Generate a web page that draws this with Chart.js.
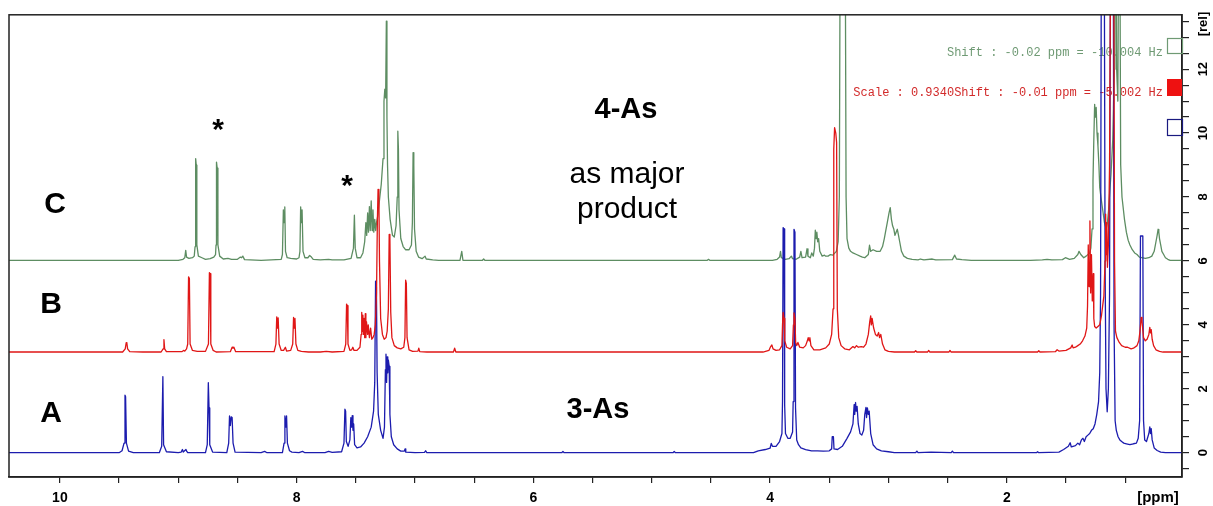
<!DOCTYPE html>
<html><head><meta charset="utf-8">
<script src="https://cdn.jsdelivr.net/npm/chart.js@4.4.1/dist/chart.umd.min.js"></script>
<style>html,body{margin:0;padding:0;background:#fff;}canvas{display:block;}</style>
</head><body>
<canvas id="c" width="1213" height="506"></canvas>
<script>
// ppm axis range and relative-intensity range
const ppmRange = [0.52, 10.43];
const relRange = [-0.76, 13.7];
const ppmLabels = [10, 8, 6, 4, 2];
const relLabels = [0, 2, 4, 6, 8, 10, 12];

// Spectrum A (3-As, blue) [ppm, rel]
const specA = [
[10.43,0],[9.50,0],[9.475,0.06],[9.458,0.3],[9.450,1.8],[9.445,1.75],[9.438,0.3],[9.42,0.05],[9.38,0],
[9.16,0],[9.140,0.2],[9.130,2.38],[9.124,0.25],[9.10,0.03],[9.0,0],
[8.975,0.02],[8.965,0.1],[8.958,0.02],[8.935,0.1],[8.928,0.04],[8.92,0],
[8.77,0],[8.755,0.25],[8.746,2.19],[8.740,1.4],[8.734,0.25],[8.71,0.02],
[8.59,0],[8.574,0.3],[8.567,1.15],[8.560,0.85],[8.553,1.12],[8.545,1.1],[8.537,0.3],[8.52,0.02],
[8.30,0],[8.27,0.04],[8.25,0],
[8.12,0],[8.106,0.3],[8.099,1.15],[8.092,0.8],[8.085,1.15],[8.078,0.3],[8.06,0.06],[8.04,0.02],[7.98,0],[7.95,0.04],[7.93,0],
[7.76,0],[7.73,0.04],[7.70,0.01],
[7.62,0.03],[7.60,0.3],[7.592,1.36],[7.586,1.3],[7.580,0.35],[7.565,0.2],[7.55,0.4],[7.542,1.1],[7.536,0.8],[7.530,1.16],[7.524,0.7],[7.518,0.9],[7.51,0.25],[7.49,0.15],[7.46,0.18],[7.43,0.3],[7.40,0.5],[7.37,0.8],[7.35,1.3],[7.34,2.2],[7.333,5.37],[7.326,5.2],[7.32,2.5],[7.31,1.2],[7.29,0.7],[7.27,0.45],[7.258,0.8],[7.25,2.6],[7.245,3.08],[7.24,2.2],[7.235,3.0],[7.23,2.5],[7.225,2.9],[7.218,2.7],[7.212,1.2],[7.20,0.5],[7.18,0.25],[7.15,0.12],[7.12,0.05],[7.09,0.05],[7.084,0.12],[7.078,0.02],[7.0,0],[6.92,0.01],[6.91,0.06],[6.90,0],
[5.76,0],[5.75,0.04],[5.74,0],[4.82,0],[4.81,0.04],[4.80,0],
[4.14,0],[4.10,0.06],[4.04,0.1],[4.00,0.14],[3.99,0.29],[3.98,0.2],[3.95,0.2],[3.92,0.35],[3.90,0.6],[3.895,1.6],[3.89,7.04],[3.882,7.0],[3.877,1.5],[3.87,0.6],[3.85,0.45],[3.83,0.45],[3.81,0.65],[3.805,1.6],[3.798,6.99],[3.79,6.9],[3.785,1.4],[3.775,0.4],[3.76,0.25],[3.74,0.15],[3.70,0.1],[3.65,0.06],[3.60,0.06],[3.55,0.05],[3.50,0.06],[3.48,0.12],[3.475,0.5],[3.465,0.5],[3.46,0.12],[3.43,0.1],[3.39,0.2],[3.35,0.45],[3.32,0.65],[3.30,0.9],[3.29,1.5],[3.285,1.2],[3.278,1.57],[3.272,1.3],[3.265,1.45],[3.255,0.9],[3.24,0.6],[3.225,0.55],[3.21,0.7],[3.20,1.2],[3.19,1.42],[3.185,1.1],[3.178,1.4],[3.17,1.2],[3.163,1.3],[3.15,0.6],[3.13,0.25],[3.10,0.12],[3.06,0.06],[3.0,0.03],[2.95,0],
[2.77,0],[2.76,0.05],[2.75,0],[2.64,0.02],[2.47,0],[2.46,0.05],[2.45,0],
[1.75,0],[1.74,0.03],[1.73,0],
[1.56,0.02],[1.52,0.1],[1.48,0.2],[1.465,0.31],[1.455,0.18],[1.44,0.2],[1.42,0.22],[1.40,0.3],[1.385,0.25],[1.37,0.4],[1.357,0.45],[1.345,0.35],[1.33,0.5],[1.315,0.55],[1.30,0.6],[1.285,0.7],[1.27,0.75],[1.255,0.9],[1.24,1.2],[1.225,1.6],[1.215,2.5],[1.208,5],[1.202,15],[1.176,15],[1.17,6],[1.162,2],[1.152,1.28],[1.142,2.0],[1.132,5],[1.125,15],[1.100,15],[1.094,4],[1.085,1.0],[1.075,0.7],[1.06,0.5],[1.045,0.4],[1.03,0.35],[1.012,0.3],[0.99,0.28],[0.96,0.25],[0.93,0.28],[0.905,0.3],[0.89,0.45],[0.878,1.0],[0.871,6.78],[0.851,6.78],[0.845,1.0],[0.835,0.4],[0.82,0.35],[0.80,0.6],[0.792,0.81],[0.786,0.6],[0.78,0.75],[0.772,0.4],[0.755,0.15],[0.73,0.07],[0.70,0.02],[0.66,0],[0.52,0]
];

// Spectrum B (red) [ppm, rel]
const specB = [
[10.43,3.15],[9.47,3.15],[9.448,3.25],[9.440,3.44],[9.434,3.42],[9.428,3.25],[9.41,3.16],[9.3,3.15],
[9.145,3.15],[9.128,3.25],[9.121,3.54],[9.115,3.25],[9.10,3.16],
[8.97,3.16],[8.955,3.2],[8.945,3.18],[8.93,3.25],[8.92,3.4],[8.913,5.5],[8.906,5.45],[8.90,3.4],[8.88,3.2],[8.84,3.17],[8.77,3.17],[8.745,3.4],[8.737,5.63],[8.731,5.6],[8.725,3.4],[8.705,3.2],[8.68,3.15],
[8.56,3.16],[8.545,3.3],[8.538,3.27],[8.53,3.3],[8.515,3.16],
[8.19,3.16],[8.175,3.4],[8.168,4.25],[8.162,3.9],[8.156,4.22],[8.148,3.4],[8.13,3.2],[8.11,3.2],[8.095,3.3],[8.085,3.18],[8.05,3.2],[8.033,3.4],[8.026,4.23],[8.02,3.9],[8.014,4.2],[8.006,3.4],[7.99,3.2],[7.96,3.17],[7.90,3.15],[7.80,3.15],[7.75,3.17],[7.70,3.15],
[7.60,3.17],[7.585,3.4],[7.578,4.65],[7.572,4.6],[7.566,3.4],[7.55,3.2],[7.535,3.22],[7.525,3.3],[7.515,3.2],[7.49,3.2],
[7.465,3.3],[7.455,3.7],[7.45,4.39],[7.445,3.8],[7.44,4.3],[7.435,3.7],[7.43,4.2],[7.425,3.6],[7.42,4.35],[7.415,3.6],[7.41,4.1],[7.40,3.7],[7.395,4.0],[7.385,3.6],[7.375,3.9],[7.365,3.55],[7.355,3.6],[7.345,3.7],[7.335,4.0],[7.325,5.0],[7.318,7.2],[7.312,8.24],[7.305,8.0],[7.30,6.0],[7.29,4.2],[7.275,3.7],[7.26,3.55],[7.245,3.6],[7.235,3.8],[7.225,4.5],[7.218,6.83],[7.212,6.7],[7.205,4.4],[7.195,3.6],[7.175,3.35],[7.15,3.28],[7.12,3.25],[7.095,3.3],[7.085,3.6],[7.079,5.4],[7.073,5.3],[7.067,3.6],[7.05,3.22],[7.02,3.17],[6.975,3.18],[6.968,3.27],[6.96,3.16],[6.90,3.15],
[6.675,3.15],[6.665,3.27],[6.655,3.15],
[4.06,3.15],[4.01,3.2],[3.995,3.32],[3.985,3.37],[3.975,3.25],[3.95,3.2],[3.92,3.22],[3.90,3.35],[3.895,4.0],[3.89,4.39],[3.882,4.2],[3.876,3.5],[3.86,3.3],[3.83,3.25],[3.81,3.35],[3.803,4.0],[3.798,4.37],[3.79,4.2],[3.784,3.45],[3.775,3.35],[3.765,3.45],[3.75,3.3],[3.72,3.28],[3.70,3.35],[3.685,3.5],[3.678,3.6],[3.67,3.5],[3.664,3.6],[3.655,3.35],[3.63,3.22],[3.58,3.22],[3.53,3.28],[3.50,3.4],[3.48,3.7],[3.468,4.5],[3.462,9.5],[3.455,10.17],[3.445,10.0],[3.438,9.7],[3.432,4.5],[3.42,3.6],[3.40,3.35],[3.37,3.25],[3.33,3.22],[3.30,3.32],[3.285,3.28],[3.27,3.35],[3.255,3.3],[3.23,3.32],[3.21,3.3],[3.19,3.4],[3.17,3.7],[3.158,4.1],[3.15,4.28],[3.145,4.0],[3.138,4.2],[3.125,3.9],[3.11,3.7],[3.095,3.65],[3.083,3.76],[3.075,3.6],[3.065,3.7],[3.05,3.4],[3.03,3.22],[3.0,3.17],[2.95,3.15],
[2.78,3.15],[2.77,3.19],[2.76,3.15],[2.67,3.15],[2.66,3.2],[2.65,3.15],[2.49,3.15],[2.48,3.2],[2.47,3.15],
[1.74,3.15],[1.73,3.19],[1.72,3.15],[1.59,3.16],[1.575,3.22],[1.56,3.18],[1.50,3.2],[1.46,3.28],[1.448,3.37],[1.44,3.28],[1.42,3.3],[1.40,3.35],[1.38,3.4],[1.36,3.5],[1.34,3.65],[1.325,3.9],[1.318,4.6],[1.312,6.5],[1.305,5.2],[1.298,7.25],[1.292,5.0],[1.285,6.2],[1.278,4.75],[1.27,5.6],[1.265,4.2],[1.258,3.95],[1.245,3.9],[1.23,3.95],[1.215,4.0],[1.20,4.3],[1.19,4.6],[1.18,4.9],[1.17,6.0],[1.165,7.46],[1.16,6.2],[1.155,7.2],[1.15,5.8],[1.142,6.5],[1.132,9],[1.124,15],[1.096,15],[1.09,6],[1.082,3.8],[1.07,3.6],[1.05,3.45],[1.03,3.35],[1.0,3.3],[0.98,3.3],[0.95,3.25],[0.93,3.27],[0.90,3.35],[0.885,3.5],[0.875,3.8],[0.865,4.23],[0.858,4.1],[0.85,3.8],[0.845,3.6],[0.83,3.5],[0.815,3.55],[0.80,3.7],[0.792,3.92],[0.786,3.75],[0.78,3.85],[0.772,3.55],[0.76,3.35],[0.74,3.22],[0.71,3.17],[0.68,3.15],[0.52,3.15]
];

// Spectrum C (4-As as major product, green) [ppm, rel]
const specC = [
[10.43,6.02],[9.0,6.02],[8.96,6.05],[8.945,6.1],[8.937,6.33],[8.93,6.12],[8.91,6.08],[8.88,6.1],[8.865,6.15],[8.858,6.45],[8.853,9.2],[8.848,9.0],[8.843,6.5],[8.83,6.15],[8.80,6.1],[8.77,6.05],[8.73,6.07],[8.70,6.12],[8.685,6.2],[8.681,6.5],[8.677,9.09],[8.671,8.9],[8.665,6.5],[8.65,6.15],[8.62,6.06],[8.58,6.08],[8.55,6.05],[8.50,6.05],[8.475,6.12],[8.465,6.1],[8.455,6.15],[8.44,6.04],[8.3,6.02],
[8.13,6.05],[8.12,6.2],[8.112,7.6],[8.106,7.2],[8.100,7.69],[8.094,6.3],[8.08,6.1],[8.05,6.08],[8.0,6.06],[7.98,6.1],[7.972,6.3],[7.966,7.69],[7.960,7.2],[7.954,7.6],[7.946,6.3],[7.93,6.1],[7.905,6.1],[7.89,6.17],[7.875,6.12],[7.86,6.05],[7.80,6.03],[7.73,6.05],[7.70,6.03],[7.60,6.03],[7.54,6.08],[7.52,6.4],[7.512,7.43],[7.505,6.4],[7.49,6.1],[7.46,6.1],[7.44,6.25],[7.425,6.6],[7.415,7.2],[7.408,6.8],[7.40,7.5],[7.393,6.9],[7.385,7.7],[7.378,6.95],[7.37,7.88],[7.362,6.95],[7.355,7.6],[7.348,6.9],[7.34,7.3],[7.332,6.95],[7.325,7.2],[7.315,7.4],[7.30,7.9],[7.285,8.4],[7.27,9.2],[7.262,11.0],[7.255,11.37],[7.248,11.1],[7.242,13.5],[7.237,10.5],[7.232,9.0],[7.225,8.0],[7.21,7.3],[7.19,6.8],[7.175,6.75],[7.16,7.1],[7.15,8.0],[7.145,10.06],[7.14,9.5],[7.135,7.6],[7.12,6.7],[7.10,6.45],[7.08,6.35],[7.05,6.35],[7.03,6.5],[7.022,7.2],[7.016,9.39],[7.01,9.0],[7.004,7.0],[6.99,6.3],[6.97,6.12],[6.94,6.07],[6.915,6.15],[6.905,6.06],[6.85,6.03],[6.80,6.02],
[6.62,6.02],[6.605,6.3],[6.595,6.02],[6.43,6.02],[6.42,6.06],[6.41,6.02],[4.53,6.02],[4.52,6.05],[4.51,6.02],
[3.98,6.02],[3.94,6.05],[3.92,6.12],[3.912,6.3],[3.905,6.1],[3.87,6.05],[3.84,6.07],[3.82,6.15],[3.81,6.07],[3.78,6.05],[3.75,6.12],[3.74,6.3],[3.73,6.1],[3.70,6.12],[3.688,6.38],[3.68,6.15],[3.66,6.1],[3.648,6.25],[3.635,6.15],[3.625,6.4],[3.618,6.96],[3.612,6.7],[3.605,6.9],[3.598,6.6],[3.59,6.7],[3.58,6.3],[3.56,6.15],[3.54,6.18],[3.532,6.15],[3.51,6.15],[3.49,6.2],[3.47,6.18],[3.44,6.3],[3.425,6.6],[3.415,8],[3.408,16],[3.365,16],[3.358,8],[3.35,6.7],[3.335,6.4],[3.32,6.3],[3.30,6.25],[3.27,6.2],[3.24,6.15],[3.22,6.12],[3.20,6.1],[3.17,6.2],[3.16,6.49],[3.15,6.3],[3.13,6.35],[3.10,6.3],[3.07,6.3],[3.05,6.45],[3.035,6.7],[3.025,6.9],[3.01,7.2],[2.995,7.5],[2.985,7.67],[2.975,7.3],[2.965,7.1],[2.955,7.0],[2.945,6.8],[2.935,6.9],[2.925,6.99],[2.915,6.8],[2.905,6.6],[2.89,6.3],[2.87,6.15],[2.84,6.08],[2.80,6.05],[2.75,6.03],[2.73,6.06],[2.70,6.03],[2.63,6.06],[2.60,6.03],[2.46,6.04],[2.44,6.18],[2.425,6.06],[2.38,6.04],[2.30,6.02],
[1.80,6.02],[1.70,6.03],[1.66,6.05],[1.62,6.03],[1.53,6.04],[1.505,6.1],[1.47,6.05],[1.43,6.08],[1.40,6.2],[1.39,6.3],[1.375,6.2],[1.35,6.1],[1.33,6.15],[1.30,6.25],[1.29,6.4],[1.28,7.0],[1.272,8.5],[1.265,9.8],[1.258,10.9],[1.252,10.5],[1.245,10.8],[1.238,10.0],[1.23,9.6],[1.222,9.0],[1.215,8.3],[1.205,8.0],[1.19,7.6],[1.175,7.2],[1.16,7.0],[1.15,7.2],[1.14,7.6],[1.13,8.2],[1.12,8.7],[1.105,9.8],[1.092,12],[1.087,16],[1.078,16],[1.072,12],[1.062,11],[1.056,16],[1.045,16],[1.038,9],[1.027,8.0],[1.015,7.6],[1.006,7.3],[0.99,6.9],[0.975,6.65],[0.96,6.5],[0.94,6.35],[0.92,6.25],[0.90,6.2],[0.88,6.12],[0.86,6.1],[0.83,6.08],[0.80,6.1],[0.775,6.15],[0.755,6.3],[0.74,6.6],[0.73,6.8],[0.722,6.99],[0.716,6.9],[0.71,6.7],[0.70,6.5],[0.69,6.3],[0.675,6.2],[0.66,6.1],[0.64,6.05],[0.62,6.02],[0.52,6.02]
];

const toXY = arr => arr.map(p => ({x: p[0], y: p[1]}));
const FONT = '"Liberation Sans", Arial, sans-serif';
const MONO = '"Liberation Mono", "Courier New", monospace';

const annotations = {
  id: 'annot',
  beforeDraw(chart) {
    const c = chart.ctx;
    c.save(); c.fillStyle = '#fff'; c.fillRect(0, 0, chart.width, chart.height); c.restore();
  },
  beforeDatasetsDraw(chart) {
    const c = chart.ctx;
    c.save();
    c.textBaseline = 'alphabetic';
    const t = (s, x, y, font, color, align) => { c.font = font; c.fillStyle = color; c.textAlign = align || 'center'; c.fillText(s, x, y); };
    t('*', 218, 139, 'bold 30px ' + FONT, '#000');
    t('*', 347, 195, 'bold 30px ' + FONT, '#000');
    t('C', 55, 213, 'bold 30px ' + FONT, '#000');
    t('B', 51, 313, 'bold 30px ' + FONT, '#000');
    t('A', 51, 422, 'bold 30px ' + FONT, '#000');
    t('4-As', 626, 118, 'bold 29px ' + FONT, '#000');
    t('as major', 627, 183, '30px ' + FONT, '#000');
    t('product', 627, 218, '30px ' + FONT, '#000');
    t('3-As', 598, 418, 'bold 29px ' + FONT, '#000');
    t('Shift : -0.02 ppm = -10.004 Hz', 1163, 56, '12px ' + MONO, '#6f9a74', 'right');
    t('Scale : 0.9340Shift : -0.01 ppm = -5.002 Hz', 1163, 96, '12px ' + MONO, '#d22a2a', 'right');
    c.restore();
  },
  afterDraw(chart) {
    const c = chart.ctx, a = chart.chartArea;
    c.save();
    c.strokeStyle = '#222'; c.lineWidth = 1.5;
    c.strokeRect(a.left, a.top, a.right - a.left, a.bottom - a.top);
    c.lineWidth = 1.2;
    c.strokeStyle = '#6f9a74'; c.strokeRect(1167.5, 38.5, 15, 15);
    c.fillStyle = '#ee1111'; c.fillRect(1167, 79, 15, 17);
    c.strokeStyle = '#1a1a80'; c.strokeRect(1167.5, 119.5, 15, 16);
    c.fillStyle = '#000';
    c.font = 'bold 15px ' + FONT; c.textAlign = 'center'; c.textBaseline = 'middle';
    c.fillText('[ppm]', 1158, 498);
    c.translate(1203, 24); c.rotate(-Math.PI / 2);
    c.font = 'bold 13px ' + FONT;
    c.fillText('[rel]', 0, 0);
    c.restore();
  }
};

const isLabel = (v, list) => list.some(l => Math.abs(l - v) < 1e-6);

new Chart(document.getElementById('c'), {
  type: 'scatter',
  data: {
    datasets: [
      {label: 'B', data: toXY(specB), borderColor: '#e01616', order: 0},
      {label: 'A', data: toXY(specA), borderColor: '#1c1cae', order: 1},
      {label: 'C', data: toXY(specC), borderColor: '#5d8d62', order: 2}
    ]
  },
  options: {
    responsive: false,
    animation: false,
    showLine: true,
    layout: {padding: {left: 9, top: 14, right: 0, bottom: 0}},
    elements: {
      point: {radius: 0, hoverRadius: 0},
      line: {borderWidth: 1.3, tension: 0, borderJoinStyle: 'round', fill: false}
    },
    plugins: {legend: {display: false}, tooltip: {enabled: false}},
    scales: {
      x: {
        type: 'linear', reverse: true, min: ppmRange[0], max: ppmRange[1],
        afterFit: s => { s.height = 29; },
        border: {display: true, color: '#222', width: 1.5},
        grid: {drawOnChartArea: false, drawTicks: true, tickLength: 6, color: '#222', lineWidth: 1.2},
        ticks: {
          stepSize: 0.5, includeBounds: false, autoSkip: false, maxRotation: 0, minRotation: 0,
          padding: 7, color: '#000', font: {family: FONT, size: 14, weight: 'bold'},
          callback: v => isLabel(v, ppmLabels) ? String(Math.round(v)) : ''
        }
      },
      y: {
        type: 'linear', position: 'right', min: relRange[0], max: relRange[1],
        afterFit: s => { s.width = 31; },
        border: {display: true, color: '#222', width: 1.5},
        grid: {drawOnChartArea: false, drawTicks: true, tickLength: 7, color: '#222', lineWidth: 1.2},
        ticks: {
          stepSize: 0.5, includeBounds: false, autoSkip: false, minRotation: 90, maxRotation: 90,
          crossAlign: 'center', padding: 7, color: '#000', font: {family: FONT, size: 13, weight: 'bold'},
          callback: v => isLabel(v, relLabels) ? String(Math.round(v)) : ''
        }
      }
    }
  },
  plugins: [annotations]
});
</script>
</body></html>
